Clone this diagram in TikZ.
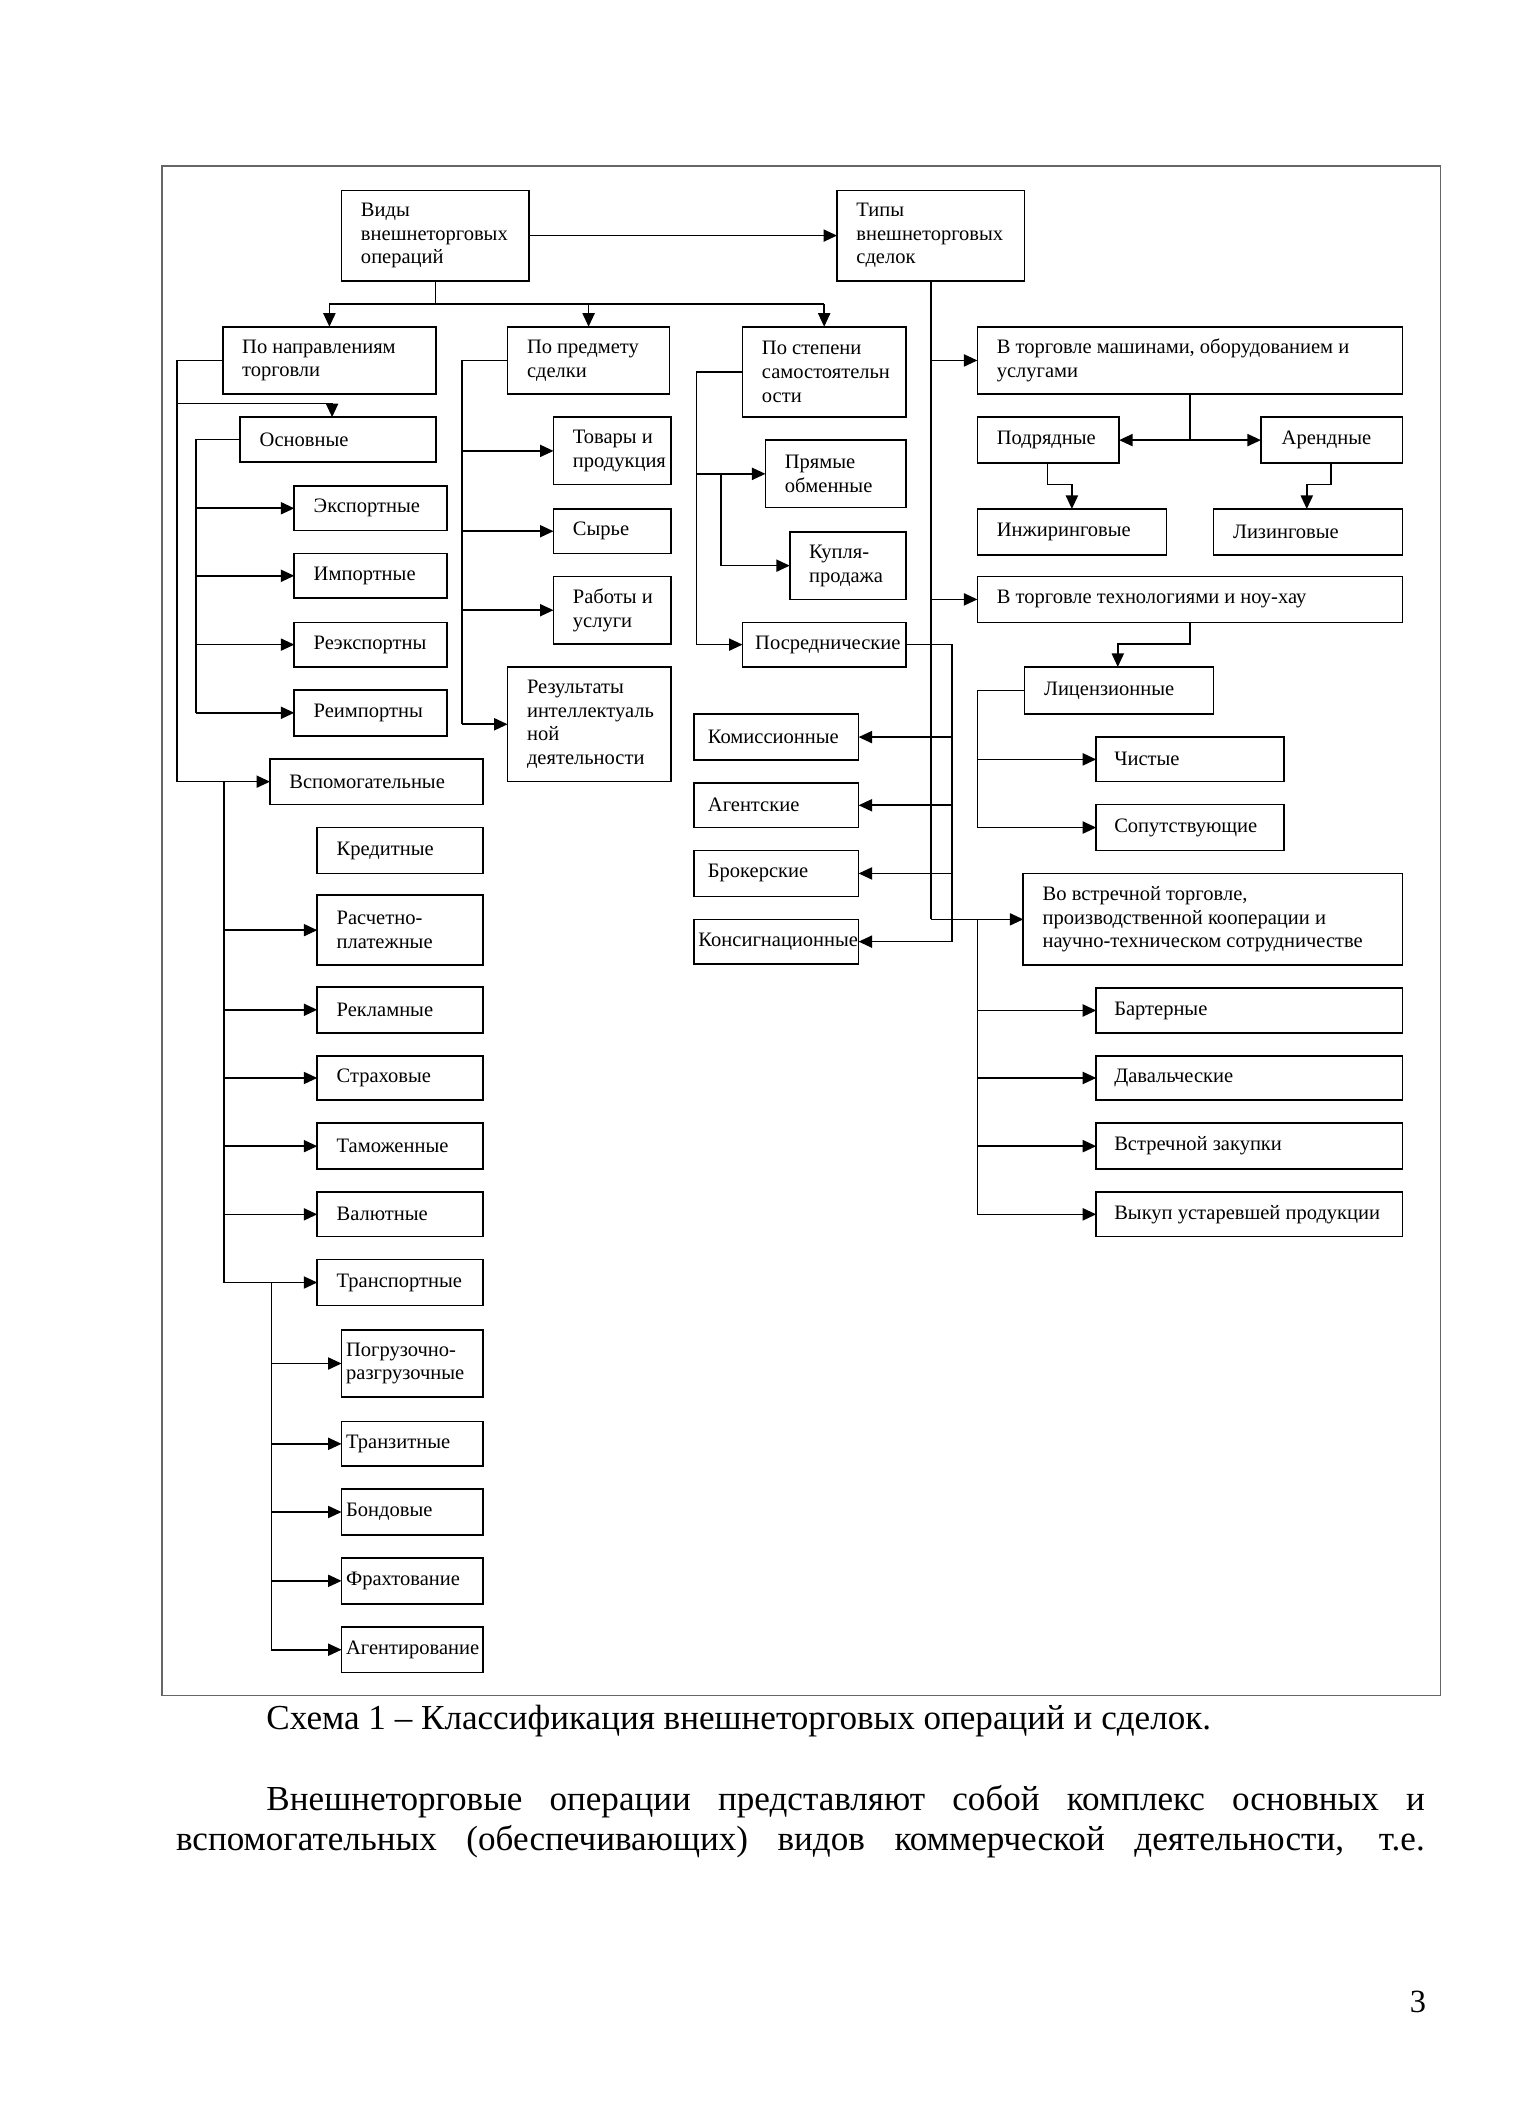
\documentclass[tikz,border=0pt]{standalone}
\usepackage{fontspec}
\setmainfont{Liberation Serif}
\usetikzlibrary{arrows.meta}
\tikzset{
  boxs/.style={draw, line width=0.6pt, rectangle, inner sep=0pt, outer sep=0pt},
  lbl/.style={anchor=west, inner sep=0pt, align=left, font=\fontsize{7.6}{8.75}\selectfont},
  conn/.style={line width=0.6pt},
  arr/.style={conn, -{Triangle[length=5pt,width=4.5pt]}},
  bigtxt/.style={anchor=base west, inner sep=0pt, font=\fontsize{13}{15.5}\selectfont},
}
\newcommand\dbox[7]{%
  \node[boxs, minimum width={(#4-#2)*0.5pt}, minimum height={(#5-#3)*0.5pt}] (#1) at ({(#2+#4)/2},{(#3+#5)/2}) {};
  \node[lbl] (#1-t) at ([xshift={#6*0.5pt}]#1.west) {#7};
}
\begin{document}
\begin{tikzpicture}[x=0.5pt,y=-0.5pt]
\fill[white] (0,0) rectangle (1138.5,1568.9);
\useasboundingbox (0,0) rectangle (1138.5,1568.9);
\draw[black!60, line width=0.5pt] (120,123) rectangle (1067,1256);

% top level
\dbox{vidy}{253}{141}{392}{208}{14}{Виды\\внешнеторговых\\операций}
\dbox{tipy}{620}{141}{759}{208}{14}{Типы\\внешнеторговых\\сделок}
\dbox{napr}{165}{242}{323}{292}{14}{По направлениям\\торговли}
\dbox{predm}{376}{242}{496}{292}{14}{По предмету\\сделки}
\dbox{step}{550}{242}{671}{309}{14}{По степени\\самостоятельн\\ости}
\dbox{mash}{724}{242}{1039}{292}{14}{В торговле машинами, оборудованием и\\услугами}

% left column
\dbox{osn}{178}{309}{323}{342}{14}{Основные}
\dbox{exp}{218}{360}{331}{393}{14}{Экспортные}
\dbox{imp}{218}{410}{331}{443}{14}{Импортные}
\dbox{reexp}{218}{461}{331}{494}{14}{Реэкспортны}
\dbox{reimp}{218}{511}{331}{545}{14}{Реимпортны}
\dbox{vsp}{200}{562}{358}{596}{14}{Вспомогательные}
\dbox{kred}{235}{613}{358}{647}{14}{Кредитные}
\dbox{rasch}{235}{663}{358}{715}{14}{Расчетно-\\платежные}
\dbox{rekl}{235}{731}{358}{765}{14}{Рекламные}
\dbox{strah}{235}{782}{358}{815}{14}{Страховые}
\dbox{tam}{235}{832}{358}{866}{14}{Таможенные}
\dbox{val}{235}{883}{358}{916}{14}{Валютные}
\dbox{trans}{235}{933}{358}{967}{14}{Транспортные}
\dbox{pogr}{253}{985}{358}{1035}{3}{Погрузочно-\\разгрузочные}
\dbox{tranz}{253}{1053}{358}{1086}{3}{Транзитные}
\dbox{bond}{253}{1103}{358}{1137}{3}{Бондовые}
\dbox{frah}{253}{1154}{358}{1188}{3}{Фрахтование}
\dbox{agent}{253}{1205}{358}{1239}{3}{Агентирование}

% subject column
\dbox{tov}{410}{309}{497}{359}{14}{Товары и\\продукция}
\dbox{syr}{410}{377}{497}{410}{14}{Сырье}
\dbox{rab}{410}{427}{497}{477}{14}{Работы и\\услуги}
\dbox{rez}{376}{494}{497}{579}{14}{Результаты\\интеллектуаль\\ной\\деятельности}

% independence column
\dbox{pr}{567}{326}{671}{376}{14}{Прямые\\обменные}
\dbox{kup}{585}{394}{671}{444}{14}{Купля-\\продажа}
\dbox{posr}{550}{461}{671}{494}{9}{Посреднические}
\dbox{kom}{514}{529}{636}{563}{10}{Комиссионные}
\dbox{agen}{514}{580}{636}{613}{10}{Агентские}
\dbox{brok}{514}{630}{636}{664}{10}{Брокерские}
\dbox{kons}{514}{681}{636}{714}{3}{Консигнационные}

% right column
\dbox{podr}{724}{309}{829}{343}{14}{Подрядные}
\dbox{arend}{934}{309}{1039}{343}{15}{Арендные}
\dbox{inzh}{724}{377}{864}{411}{14}{Инжиринговые}
\dbox{liz}{899}{377}{1039}{411}{14}{Лизинговые}
\dbox{tech}{724}{427}{1039}{461}{14}{В торговле технологиями и ноу-хау}
\dbox{lic}{759}{494}{899}{529}{14}{Лицензионные}
\dbox{chist}{812}{546}{951}{579}{13}{Чистые}
\dbox{sop}{812}{596}{951}{630}{13}{Сопутствующие}
\dbox{vstr}{758}{647}{1039}{715}{14}{Во встречной торговле,\\производственной кооперации и\\научно-техническом сотрудничестве}
\dbox{bart}{812}{732}{1039}{765}{13}{Бартерные}
\dbox{dav}{812}{782}{1039}{815}{13}{Давальческие}
\dbox{vz}{812}{832}{1039}{866}{13}{Встречной закупки}
\dbox{vyk}{812}{883}{1039}{916}{13}{Выкуп устаревшей продукции}

% trunk coordinates
\coordinate (tA) at (131,0);
\coordinate (tB) at (145,0);
\coordinate (tC) at (166,0);
\coordinate (tD) at (201,0);
\coordinate (tE) at (342,0);
\coordinate (tF) at (516,0);
\coordinate (tG) at (534,0);
\coordinate (tH) at (705,0);
\coordinate (tJ) at (724,0);
\coordinate (yBus) at (0,225);
\coordinate (yO) at (0,299);

% top connectors
\draw[arr] (vidy.east) -- (tipy.west);
\draw[conn] (vidy.south) -- (vidy.south |- yBus);
\draw[conn] (napr.north |- yBus) -- (step.north |- yBus);
\draw[arr] (napr.north |- yBus) -- (napr.north);
\draw[arr] (predm.north |- yBus) -- (predm.north);
\draw[arr] (step.north |- yBus) -- (step.north);

% directions
\draw[arr] (napr.west) -| (tA |- vsp.west) -- (vsp.west);
\draw[arr] (tA |- yO) -| ([xshift=34pt]osn.north west);
\draw[conn] (osn.west) -| (tB |- reimp.west);
\foreach \c in {exp,imp,reexp,reimp} \draw[arr] (tB |- \c.west) -- (\c.west);
\draw[conn] (tC |- vsp.west) -- (tC |- trans.west);
\foreach \c in {rasch,rekl,strah,tam,val,trans} \draw[arr] (tC |- \c.west) -- (\c.west);
\draw[conn] (tD |- trans.west) -- (tD |- agent.west);
\foreach \c in {pogr,tranz,bond,frah,agent} \draw[arr] (tD |- \c.west) -- (\c.west);

% subject
\draw[conn] (predm.west) -| (tE |- rez.west);
\foreach \c in {tov,syr,rab,rez} \draw[arr] (tE |- \c.west) -- (\c.west);

% independence
\draw[conn] (step.west) -| (tF |- posr.west);
\draw[arr] (tF |- pr.west) -- (pr.west);
\draw[arr] (tF |- posr.west) -- (posr.west);
\draw[conn] (tG |- pr.west) -- (tG |- kup.west);
\draw[arr] (tG |- kup.west) -- (kup.west);
\draw[conn] (posr.east) -| (tH |- kons.east);
\foreach \c in {kom,agen,brok,kons} \draw[arr] (tH |- \c.east) -- (\c.east);

% types
\draw[conn] (tipy.south) -- (tipy.south |- vstr.west);
\draw[arr] (tipy.south |- mash.west) -- (mash.west);
\draw[arr] (tipy.south |- tech.west) -- (tech.west);
\draw[arr] (tipy.south |- vstr.west) -- (vstr.west);
\draw[conn] (mash.south) -- (mash.south |- podr.east);
\draw[arr] (mash.south |- podr.east) -- (podr.east);
\draw[arr] (mash.south |- arend.west) -- (arend.west);
\draw[arr] ([xshift=26pt]podr.south west) -- ++(0,16) -| ([xshift=35pt]inzh.north west);
\draw[arr] ([xshift=26pt]arend.south west) -- ++(0,16) -| ([xshift=34.5pt]liz.north west);
\draw[arr] (tech.south) -- ++(0,16) -| ([xshift=34.5pt]lic.north west);
\draw[conn] (lic.west) -| (tJ |- sop.west);
\foreach \c in {chist,sop} \draw[arr] (tJ |- \c.west) -- (\c.west);
\draw[conn] (tJ |- vstr.west) -- (tJ |- vyk.west);
\foreach \c in {bart,dav,vz,vyk} \draw[arr] (tJ |- \c.west) -- (\c.west);

% caption and text
\node[bigtxt] (cap) at (197,1281) {Схема 1 – Классификация внешнеторговых операций и сделок.};
\node[bigtxt] (p1) at (197,1341) {\makebox[429pt][s]{Внешнеторговые операции представляют собой комплекс основных и}};
\node[bigtxt] (p2) at (130,1371) {\makebox[462.5pt][s]{вспомогательных (обеспечивающих) видов коммерческой деятельности, т.е.}};
\node[bigtxt, font=\fontsize{12}{14}\selectfont] (pg) at (1044,1491) {3};
\end{tikzpicture}
\end{document}
